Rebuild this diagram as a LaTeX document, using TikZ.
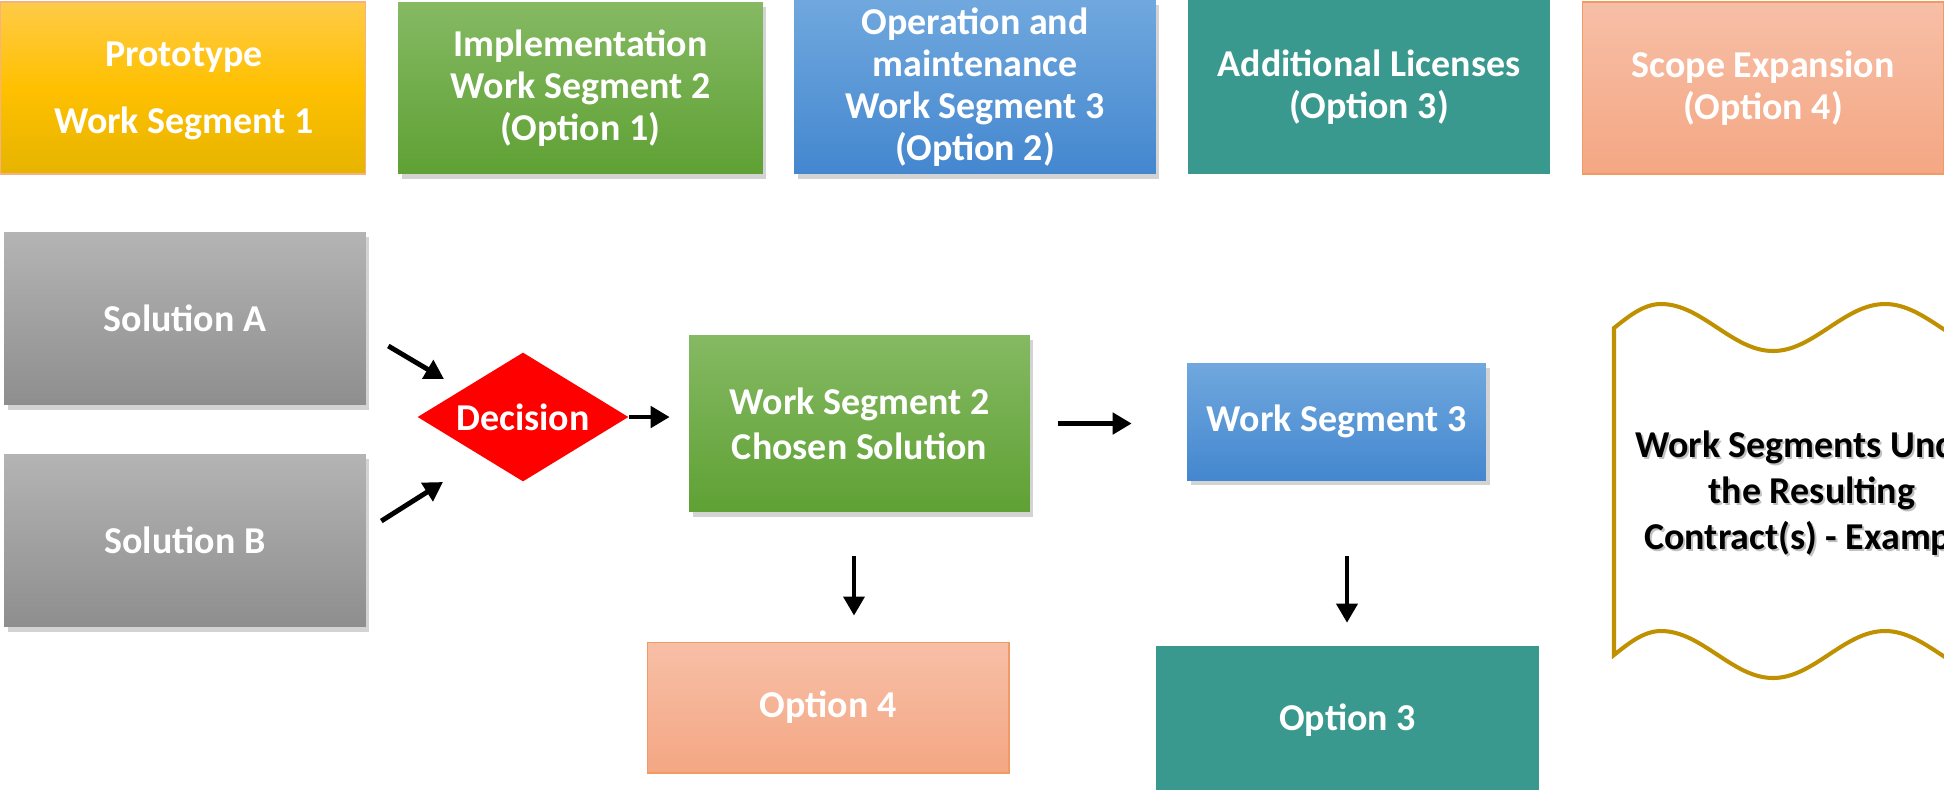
\documentclass[tikz,border=0pt]{standalone}
\usepackage{fontspec}
\setmainfont{Carlito}
\usetikzlibrary{arrows.meta,shapes.geometric,shadows}
\definecolor{yelA}{HTML}{FFCB47}
\definecolor{yelM}{HTML}{FFC000}
\definecolor{yelB}{HTML}{E6B400}
\definecolor{yelLine}{HTML}{F4B183}
\definecolor{grnA}{HTML}{85B963}
\definecolor{grnB}{HTML}{5FA134}
\definecolor{bluA}{HTML}{70A8DE}
\definecolor{bluB}{HTML}{4487CF}
\definecolor{tealC}{HTML}{3A998E}
\definecolor{salA}{HTML}{F7BFA7}
\definecolor{salB}{HTML}{F4A783}
\definecolor{salLine}{HTML}{F19A64}
\definecolor{gryA}{HTML}{B4B4B4}
\definecolor{gryB}{HTML}{8E8E8E}
\definecolor{docLine}{HTML}{BF9000}
\begin{document}
\begin{tikzpicture}[x=0.02cm,y=-0.02cm,>={Triangle[length=0.38cm,width=0.42cm]},
    box/.style={rectangle,inner sep=0pt,text=white,align=center,font=\bfseries\fontsize{21.6}{24}\selectfont},
    boxshadow/.style={drop shadow={shadow xshift=2pt,shadow yshift=-3pt,opacity=0.35}},
    yelbox/.style={top color=yelA,bottom color=yelB,middle color=yelM,draw=yelLine,line width=0.6pt},
    grnbox/.style={top color=grnA,bottom color=grnB,boxshadow},
    blubox/.style={top color=bluA,bottom color=bluB,boxshadow},
    tealbox/.style={fill=tealC},
    salbox/.style={top color=salA,bottom color=salB,draw=salLine,line width=0.6pt},
    grybox/.style={top color=gryA,bottom color=gryB,boxshadow},
    doctext/.style={align=center,font=\bfseries\fontsize{21.6}{26}\selectfont},
    ]
    \useasboundingbox (0,0) rectangle (1944,789);
    % top row
    \node[box,yelbox,minimum width=7.32cm,minimum height=3.44cm] (proto) at (183,88) {};
    \node[box] (protoText) at (184,91) {Prototype\\[14pt]Work Segment 1};
    \node[box,grnbox,minimum width=7.3cm,minimum height=3.44cm] (impl) at (580.5,88) {Implementation\\Work Segment 2\\(Option 1)};
    \node[box,blubox,minimum width=7.24cm,minimum height=3.48cm] (oper) at (975,87) {Operation and\\maintenance\\Work Segment 3\\(Option 2)};
    \node[box,tealbox,minimum width=7.24cm,minimum height=3.48cm] (lic) at (1369,87) {Additional Licenses\\(Option 3)};
    \node[box,salbox,minimum width=7.24cm,minimum height=3.44cm] (scope) at (1763,88) {Scope Expansion\\(Option 4)};
    % flow
    \node[box,grybox,minimum width=7.24cm,minimum height=3.46cm] (solA) at (185,318.5) {Solution A};
    \node[box,grybox,minimum width=7.24cm,minimum height=3.46cm] (solB) at (185,540.5) {Solution B};
    \node[box,diamond,aspect=1.64,fill=red,minimum width=4.22cm,minimum height=2.58cm] (dec) at (523,417) {Decision};
    \node[box,grnbox,minimum width=6.82cm,minimum height=3.54cm] (ws2) at (859.5,423.5) {Work Segment 2\\[1.5pt]Chosen Solution};
    \node[box,blubox,minimum width=5.98cm,minimum height=2.34cm] (ws3) at (1336.5,421.5) {Work Segment 3};
    \node[box,salbox,minimum width=7.24cm,minimum height=2.62cm] (opt4) at (828,707.5) {Option 4};
    \node[box,tealbox,minimum width=7.66cm,minimum height=2.98cm] (opt3) at (1347.5,720.5) {Option 3};
    \draw[->,line width=2.8pt] ([shift={(22,27.5)}]solA.east) -- ([shift={(-79,-38)}]dec.center);
    \draw[->,line width=2.8pt] ([shift={(15,-19.5)}]solB.east) -- ([shift={(-80,65)}]dec.center);
    \draw[->,line width=2.8pt,shorten >=0.38cm] (dec.east) -- (dec.east -| ws2.west);
    \draw[->,line width=2.8pt,shorten <=0.56cm,shorten >=1.1cm] (ws2.east) -- (ws2.east -| ws3.west);
    \draw[->,line width=2.2pt,shorten <=0.88cm,shorten >=0.52cm] ([xshift=-0.11cm]ws2.south) -- ([xshift=-0.11cm]ws2.south |- opt4.north);
    \draw[->,line width=2.2pt,shorten <=1.52cm,shorten >=0.46cm] ([xshift=0.21cm]ws3.south) -- ([xshift=0.21cm]ws3.south |- opt3.north);
    % punched tape note
    \draw[docLine,line width=2.3pt,fill=white] (1614,328) sin (1661,304) cos (1717,327.5) sin (1773,351) cos (1829,327.5) sin (1885,304) cos (1941,327.5) sin (1997,351)
        -- (1997,678) cos (1941,654.5) sin (1885,631) cos (1829,654.5) sin (1773,678) cos (1717,654.5) sin (1661,631) cos (1614,655) -- cycle;
    \node[doctext,text=gray!60,opacity=0.8] (docshade) at (1814,495) {Work Segments Under\\the Resulting\\Contract(s) - Example};
    \node[doctext] (doctxt) at (1812,493) {Work Segments Under\\the Resulting\\Contract(s) - Example};
\end{tikzpicture}
\end{document}
